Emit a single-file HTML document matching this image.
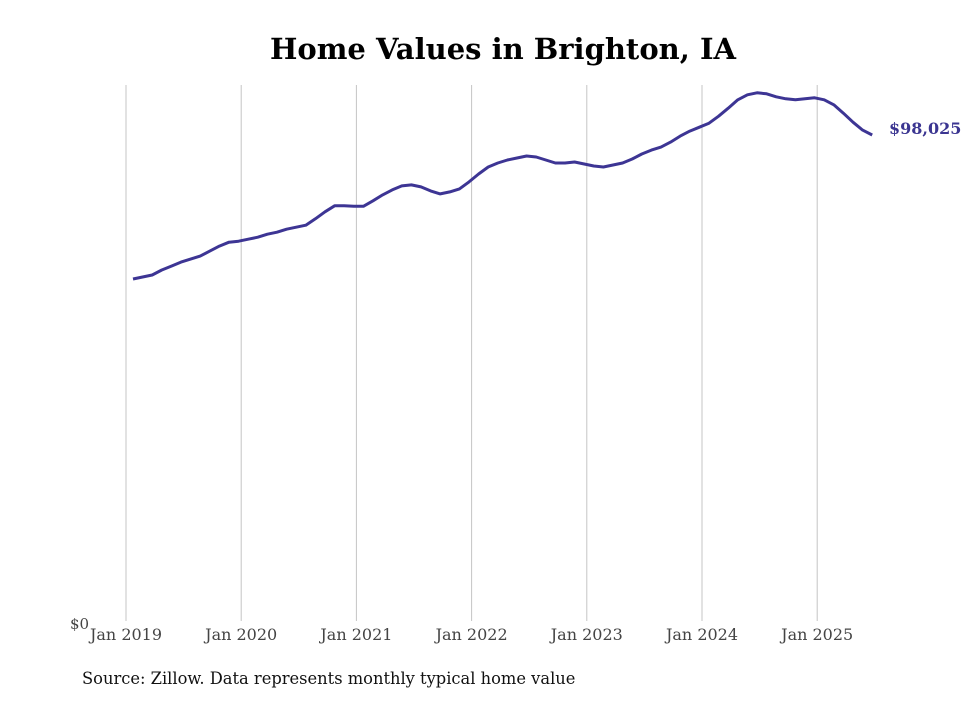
<!DOCTYPE html>
<html><head><meta charset="utf-8"><style>
body{margin:0;background:#fff;}
svg text{font-family:"DejaVu Serif","Liberation Serif",serif;}
</style></head><body>
<svg width="980" height="699" xmlns="http://www.w3.org/2000/svg">
<text x="503" y="59" text-anchor="middle" font-size="29" font-weight="bold" fill="#000">Home Values in Brighton, IA</text>
<g id="grid"></g>
<g id="xt"></g>
<text x="70" y="629" font-size="15" fill="#444">$0</text>
<path id="line" fill="none" stroke="#3d3594" stroke-width="3" stroke-linejoin="round"/>
<text id="endlabel" x="889" font-size="16" font-weight="bold" fill="#3b3591"></text>
<text x="82" y="684" font-size="16.3" fill="#111">Source: Zillow. Data represents monthly typical home value</text>
</svg>
<script>
const tickLabels=["Jan 2019","Jan 2020","Jan 2021","Jan 2022","Jan 2023","Jan 2024","Jan 2025"];
const values=[69100,69500,69900,70900,71700,72500,73100,73700,74700,75700,76500,76700,77100,77500,78100,78500,79100,79500,79900,81200,82600,83800,83800,83700,83700,84800,86000,87000,87800,88000,87600,86800,86200,86600,87200,88600,90200,91600,92400,93000,93400,93800,93600,93000,92400,92400,92600,92200,91800,91600,92000,92400,93200,94200,95000,95600,96600,97800,98800,99600,100400,101800,103400,105100,106100,106500,106300,105700,105300,105100,105300,105500,105100,104100,102400,100600,99000,98025];
const NS="http://www.w3.org/2000/svg";
const x0=126, perMonth=9.6, y0=623, yTop=85, yMax=108068;
function xs(m){return x0+m*perMonth;}
function ys(v){return y0-(v/yMax)*(y0-yTop);}
const grid=document.getElementById('grid'), xt=document.getElementById('xt');
tickLabels.forEach((t,i)=>{
  const x=xs(i*12);
  const l=document.createElementNS(NS,'line');
  l.setAttribute('x1',x);l.setAttribute('x2',x);l.setAttribute('y1',85);l.setAttribute('y2',621);
  l.setAttribute('stroke','#c4c4c4');l.setAttribute('stroke-width','1');
  
  
  grid.appendChild(l);
  const tx=document.createElementNS(NS,'text');
  tx.setAttribute('x',x);tx.setAttribute('y',640);tx.setAttribute('text-anchor','middle');
  tx.setAttribute('font-size','16');tx.setAttribute('fill','#444');
  tx.textContent=t;
  
  
  xt.appendChild(tx);
});
let d='';
values.forEach((v,i)=>{d+=(i?'L':'M')+xs(i+0.73).toFixed(1)+','+ys(v).toFixed(1);});
document.getElementById('line').setAttribute('d',d);
const last=values[values.length-1];
const el=document.getElementById('endlabel');
el.setAttribute('y',ys(last)-1);
el.textContent='$'+last.toLocaleString('en-US');
</script>
</body></html>
